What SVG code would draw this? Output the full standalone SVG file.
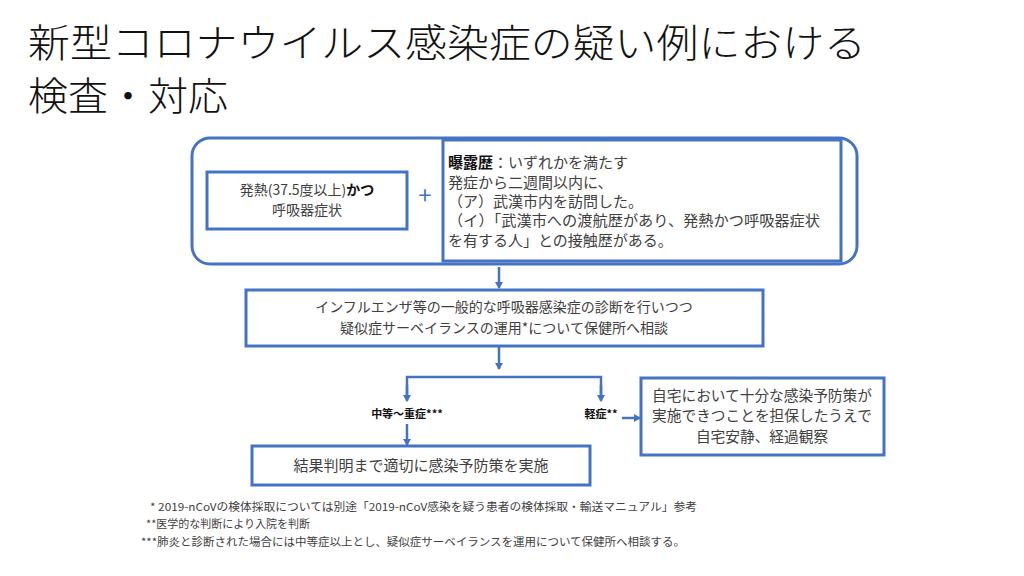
<svg xmlns="http://www.w3.org/2000/svg" width="1024" height="576" viewBox="0 0 1024 576">
<style>
.t{font-family:"Noto Sans CJK JP","Noto Sans",sans-serif;fill:#404040;}
.title{font-family:"Noto Sans CJK JP","Noto Sans",sans-serif;fill:#111;font-size:39px;font-weight:300;}
.box{fill:#fff;stroke:#4472C4;stroke-width:3;}
.ln{fill:none;stroke:#4472C4;stroke-width:2.5;}
.b{font-weight:bold;fill:#111;}
</style>
<defs>
<marker id="ah" markerWidth="8" markerHeight="8" refX="6" refY="4" orient="auto" markerUnits="userSpaceOnUse">
<path d="M0,0 L7,4 L0,8 Z" fill="#4472C4"/>
</marker>
</defs>
<rect width="1024" height="576" fill="#fff"/>
<g id="title">
<text class="title" x="28" y="57" textLength="838" lengthAdjust="spacingAndGlyphs">新型コロナウイルス感染症の疑い例における</text>
<text class="title" x="28" y="110" textLength="200" lengthAdjust="spacingAndGlyphs">検査・対応</text>
</g>
<g id="condition-group">
<rect class="box" x="192" y="138" width="665" height="126" rx="18"/>
</g>
<g id="symptom">
<rect class="box" x="207" y="172" width="200" height="57"/>
<text class="t" font-size="14" x="307" y="195" text-anchor="middle">発熱(37.5度以上)<tspan class="b">かつ</tspan></text>
<text class="t" font-size="14" x="307" y="215" text-anchor="middle">呼吸器症状</text>
</g>
<g id="plus">
<text class="t" x="425" y="204" font-size="24" style="fill:#4472C4" text-anchor="middle">+</text>
</g>
<g id="exposure">
<rect class="box" x="443" y="140" width="398" height="121"/>
<text class="t" font-size="15" x="448" y="168"><tspan class="b">曝露歴</tspan>：いずれかを満たす</text>
<text class="t" font-size="15" x="448" y="188">発症から二週間以内に、</text>
<text class="t" font-size="15" x="448" y="207">（ア）武漢市内を訪問した。</text>
<text class="t" font-size="15" x="448" y="226" textLength="372" lengthAdjust="spacingAndGlyphs">（イ）「武漢市への渡航歴があり、発熱かつ呼吸器症状</text>
<text class="t" font-size="15" x="448" y="246">を有する人」との接触歴がある。</text>
</g>
<g id="consult">
<rect class="box" x="246" y="290" width="517" height="56"/>
<text class="t" font-size="14" x="504" y="312" text-anchor="middle">インフルエンザ等の一般的な呼吸器感染症の診断を行いつつ</text>
<text class="t" font-size="14" x="504" y="333" text-anchor="middle">疑似症サーベイランスの運用*について保健所へ相談</text>
</g>
<g id="severe-label">
<text class="t b" font-size="11" x="407" y="418" text-anchor="middle">中等～重症***</text>
</g>
<g id="mild-label">
<text class="t b" font-size="11" x="601" y="418" text-anchor="middle">軽症**</text>
</g>
<g id="prevention">
<rect class="box" x="252" y="446" width="338" height="39"/>
<text class="t" font-size="15" x="421" y="471" text-anchor="middle">結果判明まで適切に感染予防策を実施</text>
</g>
<g id="home">
<rect class="box" x="641" y="378" width="243" height="77"/>
<text class="t" font-size="14.7" x="762" y="401" text-anchor="middle">自宅において十分な感染予防策が</text>
<text class="t" font-size="14.7" x="762" y="421" text-anchor="middle">実施できつことを担保したうえで</text>
<text class="t" font-size="14.7" x="762" y="442" text-anchor="middle">自宅安静、経過観察</text>
</g>
<g id="connectors">
<line class="ln" x1="499" y1="267" x2="499" y2="288" marker-end="url(#ah)"/>
<line class="ln" x1="499" y1="347" x2="499" y2="369" marker-end="url(#ah)"/>
<polyline class="ln" points="407,400 407,377 601,377 601,400"/>
<line class="ln" x1="407" y1="385" x2="407" y2="401" marker-end="url(#ah)"/>
<line class="ln" x1="601" y1="385" x2="601" y2="401" marker-end="url(#ah)"/>
<line class="ln" x1="407" y1="424" x2="407" y2="445" marker-end="url(#ah)"/>
<line class="ln" x1="622" y1="418" x2="640" y2="418" marker-end="url(#ah)"/>
</g>
<g id="footnotes">
<text class="t" font-size="11" x="150" y="511" textLength="547" lengthAdjust="spacingAndGlyphs">* 2019-nCoVの検体採取については別途「2019-nCoV感染を疑う患者の検体採取・輸送マニュアル」参考</text>
<text class="t" font-size="11" x="146" y="528">**医学的な判断により入院を判断</text>
<text class="t" font-size="11" x="141" y="546" textLength="544" lengthAdjust="spacingAndGlyphs">***肺炎と診断された場合には中等症以上とし、疑似症サーベイランスを運用について保健所へ相談する。</text>
</g>
</svg>
